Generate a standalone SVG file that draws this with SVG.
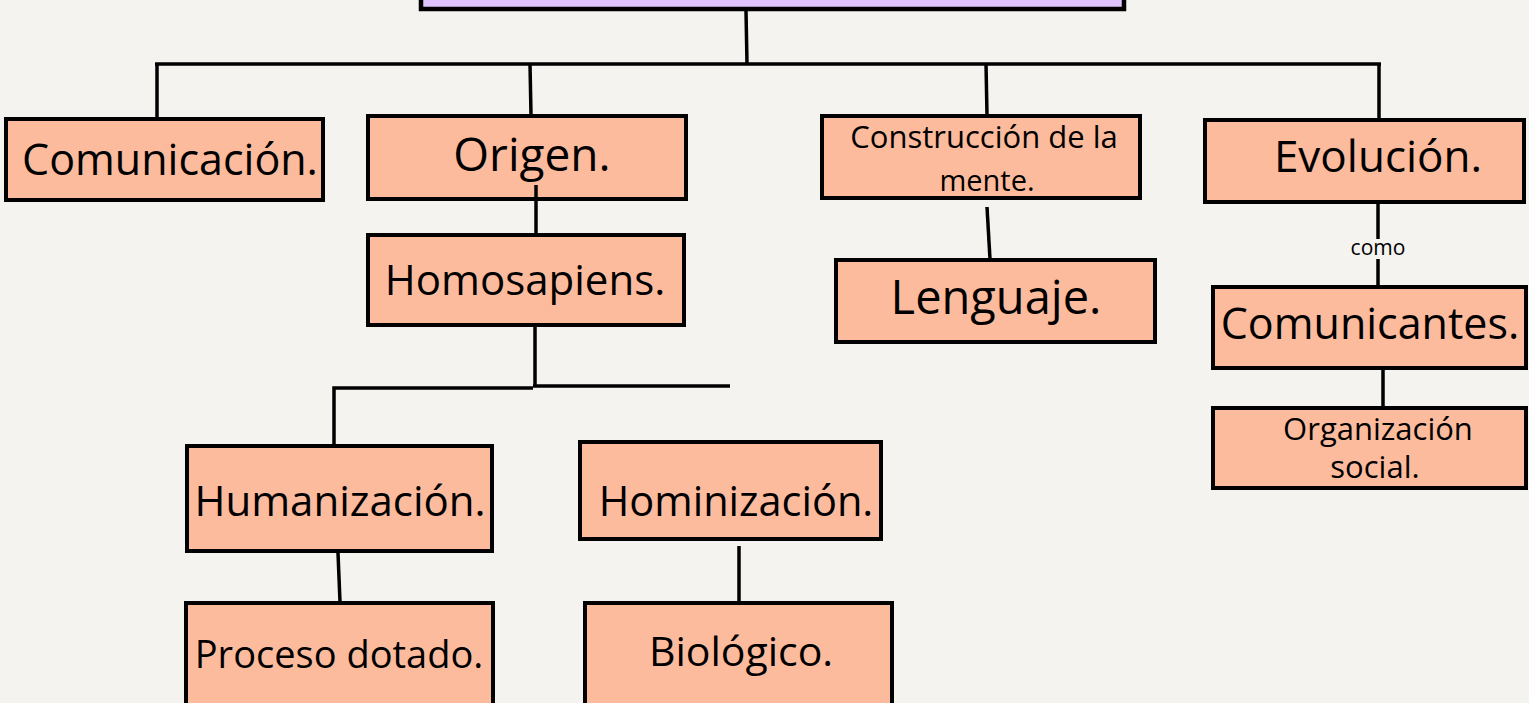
<svg xmlns="http://www.w3.org/2000/svg" width="1529" height="703" viewBox="0 0 1529 703">
<style>
.bg{fill:#F4F3EF}
.box{fill:#FDBB9D;stroke:#000;stroke-width:4}
.top{fill:#E0C4FF;stroke:#000;stroke-width:4.5}
.ln{stroke:#000;stroke-width:3.5;fill:none}
text{font-family:"Open Sans","Noto Sans","Liberation Sans",sans-serif;fill:#000;text-anchor:middle}
</style>
<rect class="bg" x="0" y="0" width="1529" height="703"/>
<g id="connectors">
<line class="ln" x1="746" y1="11" x2="747" y2="64"/>
<line class="ln" x1="155" y1="64" x2="1381" y2="64"/>
<line class="ln" x1="157" y1="64" x2="157" y2="118"/>
<line class="ln" x1="530" y1="64" x2="531" y2="115"/>
<line class="ln" x1="986" y1="64" x2="987" y2="115"/>
<line class="ln" x1="1379" y1="64" x2="1379" y2="119"/>
<line class="ln" x1="987" y1="207" x2="990" y2="259"/>
<line class="ln" x1="1378" y1="204" x2="1378" y2="239"/>
<line class="ln" x1="1378" y1="259" x2="1378" y2="286"/>
<line class="ln" x1="1383" y1="370" x2="1383" y2="407"/>
<line class="ln" x1="535" y1="327" x2="535" y2="387"/>
<polyline class="ln" points="334,445 334,388 533,388"/>
<line class="ln" x1="533" y1="386" x2="730" y2="386"/>
<line class="ln" x1="338" y1="553" x2="340" y2="602"/>
<line class="ln" x1="739" y1="546" x2="739" y2="602"/>
</g>
<g id="n-root"><rect class="top" x="421" y="-20" width="703" height="29"/></g>
<g id="n-comunicacion"><rect class="box" x="6" y="119" width="317" height="81"/><text x="170" y="175" font-size="43">Comunicación.</text></g>
<g id="n-origen"><rect class="box" x="368" y="116" width="318" height="83"/><text x="532" y="171" font-size="46">Origen.</text></g>
<g id="n-construccion"><rect class="box" x="822" y="116" width="318" height="82"/><text x="984" y="148" font-size="31">Construcción de la</text><text x="987" y="191" font-size="29">mente.</text></g>
<g id="n-evolucion"><rect class="box" x="1205" y="120" width="319" height="82"/><text x="1378" y="172" font-size="44">Evolución.</text></g>
<g id="n-homosapiens"><rect class="box" x="368" y="235" width="316" height="90"/><line class="ln" x1="536" y1="185" x2="536" y2="237"/><text x="525" y="295" font-size="42">Homosapiens.</text></g>
<g id="n-lenguaje"><rect class="box" x="836" y="260" width="319" height="82"/><text x="996" y="314" font-size="47">Lenguaje.</text></g>
<g id="n-como"><text x="1378" y="255" font-size="21">como</text></g>
<g id="n-comunicantes"><rect class="box" x="1213" y="287" width="313" height="81"/><text x="1370" y="339" font-size="43">Comunicantes.</text></g>
<g id="n-organizacion"><rect class="box" x="1213" y="408" width="313" height="80"/><text x="1378" y="440" font-size="31">Organización</text><text x="1375" y="478" font-size="31">social.</text></g>
<g id="n-humanizacion"><rect class="box" x="187" y="446" width="305" height="105"/><text x="340" y="516" font-size="42">Humanización.</text></g>
<g id="n-hominizacion"><rect class="box" x="580" y="442" width="301" height="97"/><text x="736" y="516" font-size="41.5">Hominización.</text></g>
<g id="n-proceso"><rect class="box" x="186" y="603" width="307" height="120"/><text x="339" y="668" font-size="38">Proceso dotado.</text></g>
<g id="n-biologico"><rect class="box" x="585" y="603" width="307" height="120"/><text x="741" y="666" font-size="41">Biológico.</text></g>
</svg>
